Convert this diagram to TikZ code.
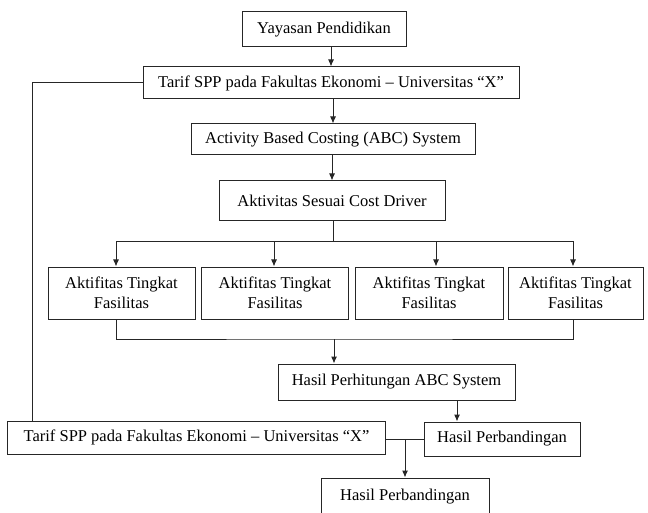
\documentclass[tikz,border=0pt]{standalone}
\usepackage{fontspec}
\setmainfont{Liberation Serif}
\usepackage{tikz}
\usetikzlibrary{arrows.meta, calc, positioning}
\colorlet{line-color}{black!85}
\tikzset{
    box/.style = {
        draw=line-color, line width=1pt, fill=white,
        inner sep=0pt, align=center,
        font=\fontsize{16.5}{20}\selectfont
    },
    link/.style = {draw=line-color, line width=1pt},
    arr/.style  = {link, -{Latex[length=7pt,width=6pt]}},
}

\begin{document}
\begin{tikzpicture}[x=1pt,y=-1pt]
\useasboundingbox (0,0) rectangle (648,513);

\node[box, minimum width=164pt, minimum height=35pt] (yayasan) at (324,29.5) {Yayasan Pendidikan};
\node[box, minimum width=376pt, minimum height=32pt] (tarifA) at (331,83) {Tarif SPP pada Fakultas Ekonomi -- Universitas ``X''};
\node[box, minimum width=284pt, minimum height=31pt] (abc) at (333,139.5) {Activity Based Costing (ABC) System};
\node[box, minimum width=226pt, minimum height=40pt] (aktivitas) at (332,201) {Aktivitas Sesuai Cost Driver};

\node[box, minimum width=147pt, minimum height=52pt] (fas1) at (121.5,293) {Aktifitas Tingkat\\Fasilitas};
\node[box, minimum width=147pt, minimum height=52pt] (fas2) at (275,293) {Aktifitas Tingkat\\Fasilitas};
\node[box, minimum width=148pt, minimum height=52pt] (fas3) at (429,293) {Aktifitas Tingkat\\Fasilitas};
\node[box, minimum width=135pt, minimum height=52pt] (fas4) at (575.5,293) {Aktifitas Tingkat\\Fasilitas};

\node[box, minimum width=237pt, minimum height=36pt] (hasil) at (396.5,382) {Hasil Perhitungan ABC System};
\node[box, minimum width=156pt, minimum height=34pt] (banding) at (502,439) {Hasil Perbandingan};
\node[box, minimum width=378pt, minimum height=33pt] (tarifB) at (196.5,437.5) {Tarif SPP pada Fakultas Ekonomi -- Universitas ``X''};
\node[box, minimum width=168pt, minimum height=38pt] (akhir) at (405,497) {Hasil Perbandingan};

\coordinate (split) at (333,242);
\coordinate (join) at (334,339);

\draw[arr] (yayasan.south -| tarifA.north) -- (tarifA.north);
\draw[arr] (tarifA.south -| abc.north) -- (abc.north);
\draw[arr] (abc.south -| aktivitas.north) -- (aktivitas.north);
\draw[link] (aktivitas.south -| split) -- (split);
\foreach \n/\s in {fas1/-5.5, fas2/-1, fas3/7, fas4/-2.5}
    \draw[arr] (split) -| ([xshift=\s pt]\n.north);

\draw[link] ([xshift=-5.5pt]fas1.south) |- (join) -| ([xshift=-2.5pt]fas4.south);
\draw[arr] (join) -- (join |- hasil.north);
\draw[arr] ([xshift=60.5pt]hasil.south) -- ([xshift=60.5pt]hasil.south |- banding.north);

\draw[link] (tarifA.west) -| ([xshift=25.5pt]tarifB.north west);
\draw[link] (tarifB.east |- banding.west) -- (banding.west);
\draw[arr] (akhir.north |- banding.west) -- (akhir.north);

\end{tikzpicture}
\end{document}
